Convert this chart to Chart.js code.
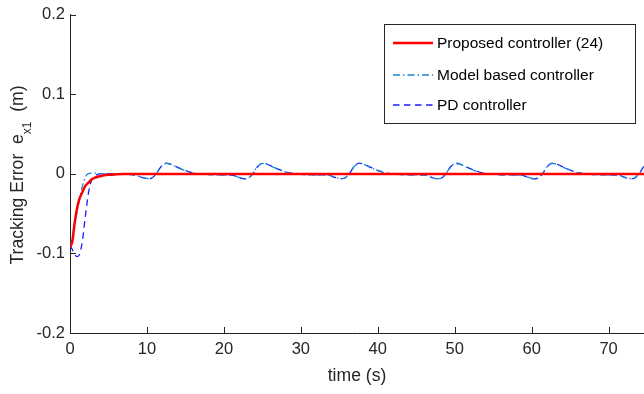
<!DOCTYPE html>
<html>
<head>
<meta charset="utf-8">
<script src="https://cdn.jsdelivr.net/npm/chart.js@4.4.1/dist/chart.umd.min.js"></script>
<style>
  html, body { margin: 0; padding: 0; background: #fff; }
  #chart { display: block; }
</style>
</head>
<body>
<canvas id="chart" width="644" height="394"></canvas>
<script>
(() => {
  'use strict';

  /* ===== Data ===== */
  const seriesLabels = ['Proposed controller (24)', 'Model based controller', 'PD controller'];

  // proposed controller: settles and stays at zero
  const proposedTime = [0, 0.3, 0.6, 0.9, 1.2, 1.6, 2, 2.4, 2.8, 3.3, 4, 5, 6, 7, 8.5, 76];
  const proposedErr = [-0.092, -0.085, -0.062, -0.044, -0.032, -0.023, -0.015, -0.011, -0.007,
    -0.0045, -0.0025, -0.0011, -0.0005, -0.0002, 0, 0];

  // shared time base for the two oscillating controllers
  const oscTime = [0, 0.3, 0.6, 0.9, 1.2, 1.6, 2, 2.4, 2.8, 3.3, 4, 5, 6, 7,
    8.5, 9.3, 10.2, 10.7, 11.2, 11.8, 12.5, 13.1, 14.0, 15.0, 16.0, 17.5, 19.0,
    21.05, 21.85, 22.75, 23.25, 23.75, 24.35, 25.05, 25.65, 26.55, 27.55, 28.55, 30.05, 31.55,
    33.6, 34.4, 35.3, 35.8, 36.3, 36.9, 37.6, 38.2, 39.1, 40.1, 41.1, 42.6, 44.1,
    46.15, 46.95, 47.85, 48.35, 48.85, 49.45, 50.15, 50.75, 51.65, 52.65, 53.65, 55.15, 56.65,
    58.7, 59.5, 60.4, 60.9, 61.4, 62.0, 62.7, 63.3, 64.2, 65.2, 66.2, 67.7, 69.2,
    71.25, 72.05, 72.95, 73.45, 73.95, 74.55, 75.25];

  const modelErr = [-0.092, -0.08, -0.063, -0.048, -0.034, -0.016, -0.004, 0.0005, 0.001, 0.001, 0.0005, 0, 0, -0.0003,
    -0.0015, -0.004, -0.006, -0.0045, 0.0003, 0.009, 0.0133, 0.012, 0.008, 0.004, 0.001, -0.0005, -0.001,
    -0.0015, -0.004, -0.006, -0.0045, 0.0003, 0.009, 0.0132, 0.012, 0.008, 0.004, 0.001, -0.0005, -0.001,
    -0.0015, -0.004, -0.0058, -0.0045, 0.0003, 0.009, 0.0133, 0.012, 0.008, 0.004, 0.001, -0.0005, -0.001,
    -0.0015, -0.004, -0.006, -0.0045, 0.0003, 0.009, 0.0132, 0.012, 0.008, 0.004, 0.001, -0.0005, -0.001,
    -0.0015, -0.004, -0.006, -0.0045, 0.0003, 0.009, 0.0133, 0.012, 0.008, 0.004, 0.001, -0.0005, -0.001,
    -0.0015, -0.004, -0.006, -0.0045, 0.0003, 0.009, 0.0133];

  const pdErr = [-0.09, -0.095, -0.101, -0.104, -0.102, -0.085, -0.053, -0.024, -0.008, -0.002, 0.0003, 0.0005, 0, -0.0003,
    -0.0015, -0.0042, -0.0062, -0.0048, 0, 0.0088, 0.0136, 0.0122, 0.0082, 0.0042, 0.0012, -0.0004, -0.001,
    -0.0015, -0.0042, -0.0062, -0.0048, 0, 0.0088, 0.0135, 0.0122, 0.0082, 0.0042, 0.0012, -0.0004, -0.001,
    -0.0015, -0.0042, -0.006, -0.0048, 0, 0.0088, 0.0136, 0.0122, 0.0082, 0.0042, 0.0012, -0.0004, -0.001,
    -0.0015, -0.0042, -0.0062, -0.0048, 0, 0.0088, 0.0135, 0.0122, 0.0082, 0.0042, 0.0012, -0.0004, -0.001,
    -0.0015, -0.0042, -0.0062, -0.0048, 0, 0.0088, 0.0136, 0.0122, 0.0082, 0.0042, 0.0012, -0.0004, -0.001,
    -0.0015, -0.0042, -0.0062, -0.0048, 0, 0.0088, 0.0136];

  const xTicks = [0, 10, 20, 30, 40, 50, 60, 70];
  const yTicks = [-0.2, -0.1, 0, 0.1, 0.2];
  const X_MIN = 0, X_MAX = 74.6;
  const Y_MIN = -0.2, Y_MAX = 0.2;

  /* ===== Style ===== */
  const FONT = '"Liberation Sans", Arial, Helvetica, sans-serif';
  const AXIS_COLOR = '#262626';
  const COLORS = ['#ff0000', '#1788d8', '#1c1cff'];

  const toPoints = (xs, ys) => xs.map((x, i) => ({ x, y: ys[i] }));

  /* ===== Decorations: inward ticks, axis titles, legend ===== */
  const decor = {
    id: 'decor',
    afterDraw(chart) {
      const { ctx, chartArea, scales } = chart;
      const xs = scales.x, ys = scales.y;
      ctx.save();

      // inward tick marks
      ctx.strokeStyle = AXIS_COLOR;
      ctx.lineWidth = 1;
      ctx.setLineDash([]);
      ctx.beginPath();
      yTicks.forEach(v => {
        const py = Math.round(ys.getPixelForValue(v)) + 0.5;
        ctx.moveTo(chartArea.left, py);
        ctx.lineTo(chartArea.left + 6, py);
      });
      xTicks.forEach(v => {
        const px = Math.round(xs.getPixelForValue(v)) + 0.5;
        ctx.moveTo(px, chartArea.bottom);
        ctx.lineTo(px, chartArea.bottom - 6);
      });
      ctx.stroke();

      // x title
      ctx.fillStyle = AXIS_COLOR;
      ctx.font = '17.6px ' + FONT;
      ctx.textAlign = 'center';
      ctx.textBaseline = 'middle';
      ctx.fillText('time (s)', (chartArea.left + chartArea.right) / 2, 376);

      // y title with subscript
      const mainFont = '17.6px ' + FONT;
      const subFont = '12px ' + FONT;
      const parts = [
        { t: 'Tracking Error  e', f: mainFont, dy: 0 },
        { t: 'x1', f: subFont, dy: 8 },
        { t: '  (m)', f: mainFont, dy: 0 }
      ];
      let total = 0;
      parts.forEach(p => { ctx.font = p.f; p.w = ctx.measureText(p.t).width; total += p.w; });
      ctx.translate(23, (chartArea.top + chartArea.bottom) / 2 + 1);
      ctx.rotate(-Math.PI / 2);
      ctx.textAlign = 'left';
      ctx.textBaseline = 'alphabetic';
      let cx = -total / 2;
      parts.forEach(p => { ctx.font = p.f; ctx.fillText(p.t, cx, p.dy); cx += p.w; });
      ctx.setTransform(1, 0, 0, 1, 0, 0);

      // legend
      const box = { left: 384.5, top: 24.5, width: 251, height: 99 };
      const rowY = [43, 75, 105];
      ctx.fillStyle = '#ffffff';
      ctx.fillRect(box.left, box.top, box.width, box.height);
      ctx.strokeStyle = AXIS_COLOR;
      ctx.lineWidth = 1;
      ctx.strokeRect(box.left, box.top, box.width, box.height);
      chart.data.datasets.forEach((ds, i) => {
        ctx.strokeStyle = COLORS[i];
        ctx.lineWidth = i === 0 ? 2.5 : 1.3;
        ctx.setLineDash(ds.borderDash || []);
        ctx.beginPath();
        ctx.moveTo(393, rowY[i]);
        ctx.lineTo(433, rowY[i]);
        ctx.stroke();
        ctx.setLineDash([]);
        ctx.fillStyle = '#000000';
        ctx.font = '15.5px ' + FONT;
        ctx.textAlign = 'left';
        ctx.textBaseline = 'middle';
        ctx.fillText(ds.label, 437, rowY[i] + 1);
      });

      ctx.restore();
    }
  };

  /* ===== Chart ===== */
  const canvas = document.getElementById('chart');
  new Chart(canvas, {
    type: 'line',
    data: {
      datasets: [
        {
          label: seriesLabels[0],
          data: toPoints(proposedTime, proposedErr),
          borderColor: COLORS[0],
          borderWidth: 2.5,
          pointRadius: 0,
          cubicInterpolationMode: 'monotone'
        },
        {
          label: seriesLabels[1],
          data: toPoints(oscTime, modelErr),
          borderColor: COLORS[1],
          borderWidth: 1.3,
          borderDash: [7, 3, 1.5, 3],
          pointRadius: 0,
          cubicInterpolationMode: 'monotone'
        },
        {
          label: seriesLabels[2],
          data: toPoints(oscTime, pdErr),
          borderColor: COLORS[2],
          borderWidth: 1.3,
          borderDash: [6.5, 4.5],
          pointRadius: 0,
          cubicInterpolationMode: 'monotone'
        }
      ]
    },
    options: {
      responsive: false,
      devicePixelRatio: 1,
      animation: false,
      events: [],
      layout: { padding: { top: 12, right: 0, bottom: 0, left: 0 } },
      plugins: {
        legend: { display: false },
        tooltip: { enabled: false },
        title: { display: false }
      },
      scales: {
        x: {
          type: 'linear',
          min: X_MIN,
          max: X_MAX,
          afterBuildTicks: s => { s.ticks = xTicks.map(v => ({ value: v })); },
          afterFit: s => { s.height = 61; },
          grid: { display: false, drawTicks: false },
          border: { display: true, color: AXIS_COLOR, width: 1 },
          ticks: {
            color: AXIS_COLOR,
            font: { family: FONT, size: 16.5 },
            padding: 7,
            maxRotation: 0,
            autoSkip: false,
            callback: v => String(v)
          }
        },
        y: {
          type: 'linear',
          min: Y_MIN,
          max: Y_MAX,
          afterBuildTicks: s => { s.ticks = yTicks.map(v => ({ value: v })); },
          afterFit: s => { s.width = 70; },
          grid: { display: false, drawTicks: false },
          border: { display: true, color: AXIS_COLOR, width: 1 },
          ticks: {
            color: AXIS_COLOR,
            font: { family: FONT, size: 16.5 },
            padding: 5,
            autoSkip: false,
            callback: v => String(v)
          }
        }
      }
    },
    plugins: [decor]
  });
})();
</script>
</body>
</html>
